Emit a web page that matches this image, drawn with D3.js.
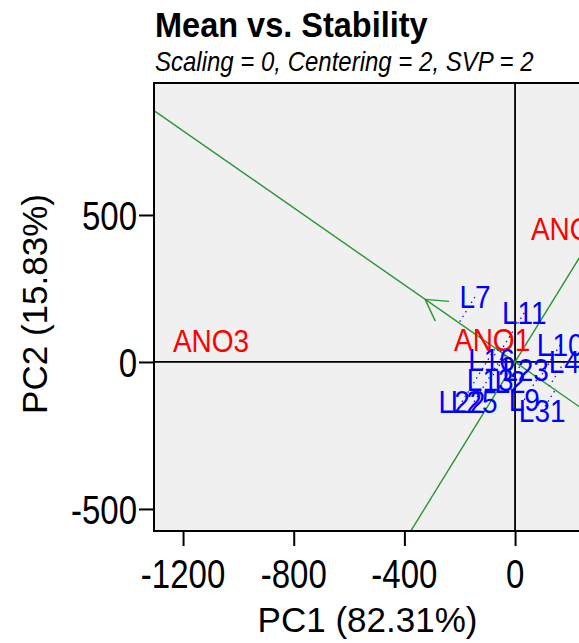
<!DOCTYPE html>
<html>
  <head>
    <meta charset="utf-8"/>
    <title>Mean vs. Stability</title>
    <style type="text/css">
body {
  margin: 0;
  background: #fff;
}
svg {
  display: block;
  font-family: "Liberation Sans", Arial, sans-serif;
}
    </style>
  </head>
  <body>
    <div id="chart"></div>
    <script src="https://cdn.jsdelivr.net/npm/d3@7"></script>
    <script>
    // genotype scores (PC1, PC2)
    const genoNames = ["L7", "L11", "L10", "L4", "L16", "L23", "L13", "L2", "L22", "L25", "L9", "L31"];
    const genoX = [-145, 33, 163, 178, -85, 38, -90, -18, -192, -148, 33, 98];
    const genoY = [221, 167, 58, 0, 7, -27, -61, -68, -136, -136, -129, -167];

    // environment scores
    const envNames = ["ANO3", "ANO1", "ANO2"];
    const envX = [-1099, -83, 195];
    const envY = [71, 75, 452];

    // average environment coordinate (arrow tip on the AEC abscissa)
    const aec = [-325, 213];

    const xTicks = [-1200, -800, -400, 0];
    const yTicks = [-500, 0, 500];
    const xLimits = [-1305, 260];
    const yLimits = [-575, 949];

    const title = "Mean vs. Stability";
    const subtitle = "Scaling = 0, Centering = 2, SVP = 2";
    const xLabel = "PC1 (82.31%)";
    const yLabel = "PC2 (15.83%)";

    const width = 579, height = 643;
    const panel = {left: 154, right: 587, top: 83, bottom: 531};

    const x = d3.scaleLinear().domain(xLimits).range([panel.left, panel.right]);
    const y = d3.scaleLinear().domain(yLimits).range([panel.bottom, panel.top]);

    const svg = d3.select("#chart").append("svg")
        .attr("width", width)
        .attr("height", height);

    // text is a little taller than wide in the original raster
    function place(sel, px, py, k) {
      return sel.attr("transform", `translate(${px},${py}) scale(1,${k})`);
    }

    svg.append("defs").append("clipPath")
        .attr("id", "clip")
      .append("rect")
        .attr("x", panel.left)
        .attr("y", panel.top)
        .attr("width", panel.right - panel.left)
        .attr("height", panel.bottom - panel.top);

    svg.append("rect")
        .attr("x", panel.left)
        .attr("y", panel.top)
        .attr("width", panel.right - panel.left)
        .attr("height", panel.bottom - panel.top)
        .attr("fill", "#f0f0f0");

    const plot = svg.append("g").attr("clip-path", "url(#clip)");

    // zero lines
    plot.append("line")
        .attr("x1", x(0)).attr("x2", x(0))
        .attr("y1", panel.top).attr("y2", panel.bottom)
        .attr("stroke", "#000").attr("stroke-width", 1.8);
    plot.append("line")
        .attr("x1", panel.left).attr("x2", panel.right)
        .attr("y1", y(0)).attr("y2", y(0))
        .attr("stroke", "#000").attr("stroke-width", 1.8);

    // AEC abscissa and ordinate through the origin
    const len = Math.hypot(aec[0], aec[1]);
    const u = [aec[0] / len, aec[1] / len];
    const far = 5000;
    const green = "#2a9632";
    plot.append("line")
        .attr("x1", x(-u[0] * far)).attr("y1", y(-u[1] * far))
        .attr("x2", x(u[0] * far)).attr("y2", y(u[1] * far))
        .attr("stroke", green).attr("stroke-width", 1.4);
    plot.append("line")
        .attr("x1", x(-u[1] * far)).attr("y1", y(u[0] * far))
        .attr("x2", x(u[1] * far)).attr("y2", y(-u[0] * far))
        .attr("stroke", green).attr("stroke-width", 1.4);

    // arrow head at average environment
    const tipX = x(aec[0]), tipY = y(aec[1]);
    const back = Math.atan2(y(0) - tipY, x(0) - tipX);
    const headLen = 24, headAng = Math.PI / 6;
    [back - headAng, back + headAng].forEach(a => {
      plot.append("line")
          .attr("x1", tipX).attr("y1", tipY)
          .attr("x2", tipX + headLen * Math.cos(a))
          .attr("y2", tipY + headLen * Math.sin(a))
          .attr("stroke", green).attr("stroke-width", 1.4);
    });

    // dotted projections of genotypes onto the AEC abscissa
    plot.selectAll(".proj")
        .data(genoNames.map((d, i) => i))
        .enter()
        .append("line")
        .attr("x1", i => x(genoX[i]))
        .attr("y1", i => y(genoY[i]))
        .attr("x2", i => x(u[0] * (genoX[i] * u[0] + genoY[i] * u[1])))
        .attr("y2", i => y(u[1] * (genoX[i] * u[0] + genoY[i] * u[1])))
        .attr("stroke", "#0000ff")
        .attr("stroke-width", 1.2)
        .attr("stroke-dasharray", "1.5,4");

    // environment labels
    plot.selectAll(".env")
        .data(envNames)
        .enter()
        .append("text")
        .each(function(d, i) { place(d3.select(this), x(envX[i]), y(envY[i]), 1.1); })
        .attr("dy", "0.36em")
        .attr("text-anchor", "middle")
        .attr("font-size", 28)
        .attr("fill", "#ff0000")
        .text(d => d);

    // genotype labels
    plot.selectAll(".geno")
        .data(genoNames)
        .enter()
        .append("text")
        .each(function(d, i) { place(d3.select(this), x(genoX[i]), y(genoY[i]), 1.1); })
        .attr("dy", "0.36em")
        .attr("text-anchor", "middle")
        .attr("font-size", 28)
        .attr("fill", "#0000ff")
        .text(d => d);

    // box
    svg.append("rect")
        .attr("x", panel.left)
        .attr("y", panel.top)
        .attr("width", panel.right - panel.left)
        .attr("height", panel.bottom - panel.top)
        .attr("fill", "none")
        .attr("stroke", "#000")
        .attr("stroke-width", 2);

    // axes: tick marks from d3, labels placed with the same scales
    const xAxis = svg.append("g")
        .attr("transform", `translate(0,${panel.bottom})`)
        .call(d3.axisBottom(x).tickValues(xTicks).tickSize(15).tickFormat("").tickSizeOuter(0));
    const yAxis = svg.append("g")
        .attr("transform", `translate(${panel.left},0)`)
        .call(d3.axisLeft(y).tickValues(yTicks).tickSize(15).tickFormat("").tickSizeOuter(0));
    [xAxis, yAxis].forEach(g => {
      g.select(".domain").remove();
      g.selectAll("line").attr("stroke", "#000").attr("stroke-width", 2);
    });

    const tickK = 1.25;
    svg.selectAll(".xtick")
        .data(xTicks)
        .enter()
        .append("text")
        .each(function(d) { place(d3.select(this), x(d), 588, tickK); })
        .attr("text-anchor", "middle")
        .attr("font-size", 33)
        .text(d => String(d));
    svg.selectAll(".ytick")
        .data(yTicks)
        .enter()
        .append("text")
        .each(function(d) { place(d3.select(this), 137, y(d), tickK); })
        .attr("dy", "0.36em")
        .attr("text-anchor", "end")
        .attr("font-size", 33)
        .text(d => String(d));

    // titles
    place(svg.append("text"), 155, 37, 1.1)
        .attr("font-size", 32.5)
        .attr("font-weight", "bold")
        .text(title);
    place(svg.append("text"), 155, 71, 1.12)
        .attr("font-size", 24)
        .attr("font-style", "italic")
        .text(subtitle);
    svg.append("text")
        .attr("x", (panel.left + panel.right) / 2 - 3).attr("y", 632)
        .attr("text-anchor", "middle")
        .attr("font-size", 35)
        .text(xLabel);
    svg.append("text")
        .attr("transform", `translate(47,${(panel.top + panel.bottom) / 2 - 3}) rotate(-90)`)
        .attr("text-anchor", "middle")
        .attr("font-size", 35)
        .text(yLabel);
    </script>
  </body>
</html>
